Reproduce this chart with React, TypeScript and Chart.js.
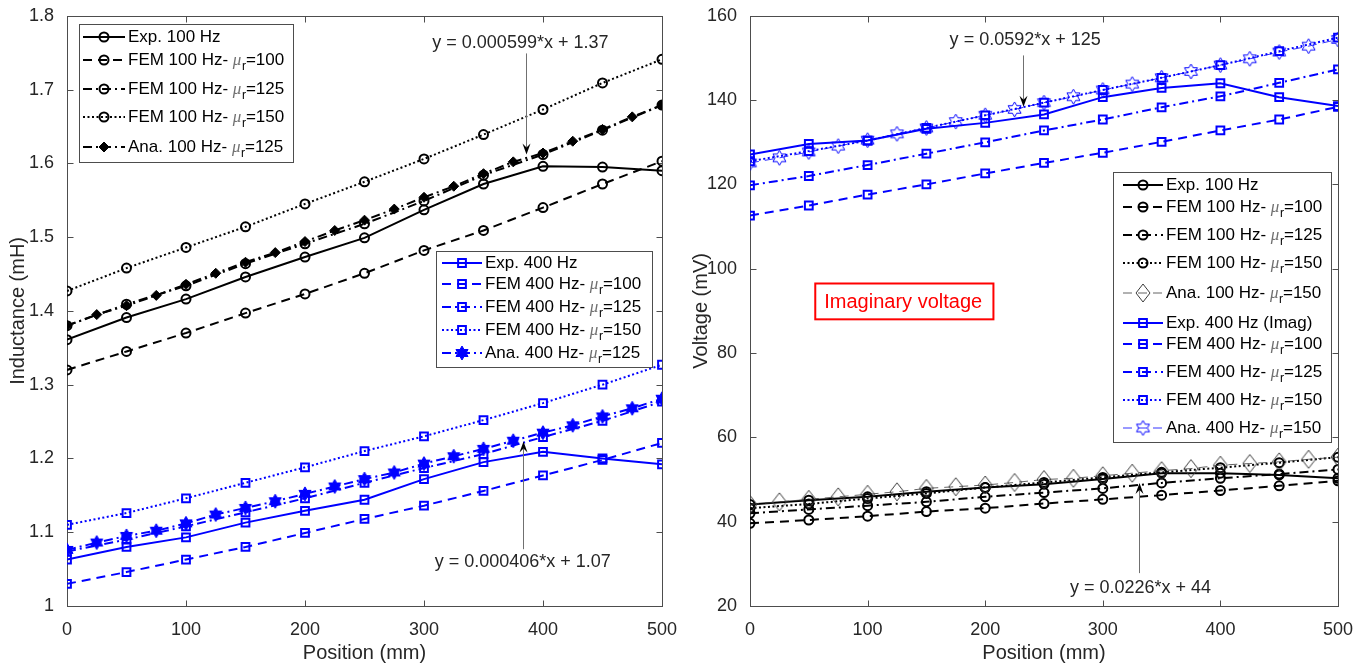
import React, { useEffect, useRef } from 'react';
import { Chart, registerables } from 'chart.js';

Chart.register(...registerables);

// ---------------- data ----------------
const positions = [0, 50, 100, 150, 200, 250, 300, 350, 400, 450, 500];
const positionsFine = [0, 25, 50, 75, 100, 125, 150, 175, 200, 225, 250, 275, 300, 325, 350, 375, 400, 425, 450, 475, 500];
const positionTicks = [0, 100, 200, 300, 400, 500];
const inductanceTicks = [1, 1.1, 1.2, 1.3, 1.4, 1.5, 1.6, 1.7, 1.8];
const voltageTicks = [20, 40, 60, 80, 100, 120, 140, 160];

// Inductance (mH)
const indExp100 = [1.361, 1.391, 1.416, 1.446, 1.473, 1.499, 1.537, 1.572, 1.596, 1.595, 1.590];
const indFem100Mu100 = [1.320, 1.345, 1.370, 1.397, 1.423, 1.451, 1.482, 1.509, 1.540, 1.572, 1.603];
const indFem100Mu125 = [1.380, 1.409, 1.434, 1.464, 1.491, 1.518, 1.549, 1.584, 1.612, 1.645, 1.679];
const indFem100Mu150 = [1.427, 1.458, 1.486, 1.514, 1.545, 1.575, 1.606, 1.639, 1.673, 1.709, 1.741];
const indAna100Mu125 = [1.380, 1.395, 1.407, 1.421, 1.436, 1.451, 1.466, 1.479, 1.494, 1.509, 1.523, 1.538, 1.554, 1.569, 1.586, 1.602, 1.614, 1.630, 1.646, 1.663, 1.679];
const indExp400 = [1.063, 1.080, 1.093, 1.113, 1.129, 1.144, 1.172, 1.195, 1.209, 1.200, 1.192];
const indFem400Mu100 = [1.030, 1.046, 1.063, 1.080, 1.099, 1.118, 1.136, 1.156, 1.177, 1.198, 1.221];
const indFem400Mu125 = [1.074, 1.090, 1.108, 1.127, 1.146, 1.167, 1.187, 1.206, 1.229, 1.251, 1.277];
const indFem400Mu150 = [1.110, 1.126, 1.146, 1.167, 1.188, 1.210, 1.230, 1.252, 1.275, 1.300, 1.327];
const indAna400Mu125 = [1.076, 1.086, 1.095, 1.102, 1.112, 1.124, 1.133, 1.142, 1.152, 1.162, 1.172, 1.181, 1.193, 1.203, 1.213, 1.224, 1.235, 1.245, 1.257, 1.268, 1.281];

// Voltage (mV)
const volExp100 = [44.1, 45.1, 45.9, 47.1, 48.1, 48.9, 50.1, 51.5, 51.5, 51.1, 50.3];
const volFem100Mu100 = [39.6, 40.4, 41.3, 42.4, 43.2, 44.3, 45.3, 46.3, 47.4, 48.5, 49.7];
const volFem100Mu125 = [42.0, 42.9, 43.8, 44.7, 45.9, 46.9, 47.9, 49.2, 50.3, 51.3, 52.4];
const volFem100Mu150 = [43.2, 44.2, 45.5, 46.7, 48.1, 49.3, 50.5, 51.7, 52.8, 54.0, 55.3];
const volAna100Mu150 = [44.1, 44.7, 45.3, 45.9, 46.5, 47.1, 47.9, 48.3, 48.7, 49.3, 50.0, 50.3, 50.9, 51.5, 52.1, 52.6, 53.4, 53.8, 54.2, 54.8, 55.3];
const volExp400 = [127.1, 129.6, 130.4, 133.2, 134.6, 136.6, 140.7, 142.9, 144.0, 140.7, 138.6];
const volFem400Mu100 = [112.6, 115.0, 117.6, 120.0, 122.6, 125.1, 127.5, 130.1, 132.8, 135.4, 138.4];
const volFem400Mu125 = [119.8, 122.0, 124.6, 127.3, 130.0, 132.8, 135.4, 138.3, 140.9, 144.1, 147.3];
const volFem400Mu150 = [125.5, 127.9, 130.4, 133.4, 136.4, 139.4, 142.4, 145.3, 148.3, 151.6, 154.8];
const volAna400Mu150 = [125.1, 126.3, 127.7, 129.1, 130.5, 132.0, 133.4, 134.9, 136.4, 137.8, 139.4, 140.8, 142.4, 143.8, 145.3, 146.8, 148.3, 149.8, 151.4, 152.8, 154.4];

// Fit annotations (text, text anchor, arrow x, arrow tail, arrow tip) in data units
const leftFits = [
  { text: 'y = 0.000599*x + 1.37', tx: 381, ty: 1.763, ax: 386, tail: 1.749, tip: 1.612 },
  { text: 'y = 0.000406*x + 1.07', tx: 383, ty: 1.060, ax: 383, tail: 1.077, tip: 1.223 },
];
const rightFits = [
  { text: 'y = 0.0592*x + 125', tx: 234, ty: 154.2, ax: 232, tail: 150.6, tip: 138.4 },
  { text: 'y = 0.0226*x + 44', tx: 332, ty: 24.3, ax: 331, tail: 27.8, tip: 49.2 },
];
const rightNote = { text: 'Imaginary voltage', x0: 55.5, x1: 207, y0: 96.5, y1: 88.0 };

// ---------------- styles ----------------
const FONT = "'Liberation Sans', Arial, Helvetica, sans-serif";
const SERIF = "'Liberation Serif', 'DejaVu Serif', serif";
const TEXT = '#262626';
const AXIS = '#4d4d4d';
const BLACK = '#000000';
const BLUE = '#0000ff';
const GRAY = '#3c3c3c';
const DASHES: Record<string, number[]> = {
  solid: [],
  dashed: [9, 6],
  dashdot: [9, 4, 2, 4],
  dotted: [2, 2.5],
};

function hexagram(R: number, color: string, filled: boolean, lw: number) {
  const pad = 2;
  const size = Math.ceil(2 * R + 2 * pad);
  const c = document.createElement('canvas');
  c.width = size;
  c.height = size;
  const g = c.getContext('2d')!;
  const cx = size / 2, cy = size / 2, r = R / Math.sqrt(3);
  g.beginPath();
  for (let k = 0; k < 12; k++) {
    const a = -Math.PI / 2 + (k * Math.PI) / 6;
    const rad = k % 2 === 0 ? R : r;
    const px = cx + rad * Math.cos(a), py = cy + rad * Math.sin(a);
    if (k === 0) g.moveTo(px, py); else g.lineTo(px, py);
  }
  g.closePath();
  if (filled) { g.fillStyle = color; g.fill(); }
  g.strokeStyle = color; g.lineWidth = lw; g.stroke();
  return c;
}

function tallDiamond(hw: number, hh: number, color: string, lw: number) {
  const pad = 2;
  const w = Math.ceil(2 * hw + 2 * pad), h = Math.ceil(2 * hh + 2 * pad);
  const c = document.createElement('canvas');
  c.width = w; c.height = h;
  const g = c.getContext('2d')!;
  const cx = w / 2, cy = h / 2;
  g.beginPath();
  g.moveTo(cx, cy - hh); g.lineTo(cx + hw, cy); g.lineTo(cx, cy + hh); g.lineTo(cx - hw, cy);
  g.closePath();
  g.strokeStyle = color; g.lineWidth = lw; g.stroke();
  return c;
}

type Series = {
  x: number[]; y: number[]; color: string; dash: string; width: number;
  marker: string; r: number; mw: number; fill: boolean; img?: HTMLCanvasElement;
  label: string; mu?: string;
};

function makeLeftSeries(): Series[] {
  const star = hexagram(7, BLUE, true, 1);
  return [
    { x: positions, y: indExp100, color: BLACK, dash: 'solid', width: 2, marker: 'circle', r: 4.5, mw: 2, fill: false, label: 'Exp. 100 Hz' },
    { x: positions, y: indFem100Mu100, color: BLACK, dash: 'dashed', width: 2, marker: 'circle', r: 4.5, mw: 2, fill: false, label: 'FEM 100 Hz- ', mu: '=100' },
    { x: positions, y: indFem100Mu125, color: BLACK, dash: 'dashdot', width: 2, marker: 'circle', r: 4.5, mw: 2, fill: false, label: 'FEM 100 Hz- ', mu: '=125' },
    { x: positions, y: indFem100Mu150, color: BLACK, dash: 'dotted', width: 2, marker: 'circle', r: 4.5, mw: 2, fill: false, label: 'FEM 100 Hz- ', mu: '=150' },
    { x: positionsFine, y: indAna100Mu125, color: BLACK, dash: 'dashdot', width: 2, marker: 'rectRot', r: 5, mw: 1, fill: true, label: 'Ana. 100 Hz- ', mu: '=125' },
    { x: positions, y: indExp400, color: BLUE, dash: 'solid', width: 2, marker: 'rect', r: 5.5, mw: 2, fill: false, label: 'Exp. 400 Hz' },
    { x: positions, y: indFem400Mu100, color: BLUE, dash: 'dashed', width: 2, marker: 'rect', r: 5.5, mw: 2, fill: false, label: 'FEM 400 Hz- ', mu: '=100' },
    { x: positions, y: indFem400Mu125, color: BLUE, dash: 'dashdot', width: 2, marker: 'rect', r: 5.5, mw: 2, fill: false, label: 'FEM 400 Hz- ', mu: '=125' },
    { x: positions, y: indFem400Mu150, color: BLUE, dash: 'dotted', width: 2, marker: 'rect', r: 5.5, mw: 2, fill: false, label: 'FEM 400 Hz- ', mu: '=150' },
    { x: positionsFine, y: indAna400Mu125, color: BLUE, dash: 'dashdot', width: 2, marker: 'img', img: star, r: 7, mw: 1, fill: true, label: 'Ana. 400 Hz- ', mu: '=125' },
  ];
}

function makeRightSeries(): Series[] {
  const star = hexagram(7.5, BLUE, false, 1);
  const diamond = tallDiamond(7, 9, GRAY, 1);
  return [
    { x: positions, y: volExp100, color: BLACK, dash: 'solid', width: 2, marker: 'circle', r: 4.5, mw: 2, fill: false, label: 'Exp. 100 Hz' },
    { x: positions, y: volFem100Mu100, color: BLACK, dash: 'dashed', width: 2, marker: 'circle', r: 4.5, mw: 2, fill: false, label: 'FEM 100 Hz- ', mu: '=100' },
    { x: positions, y: volFem100Mu125, color: BLACK, dash: 'dashdot', width: 2, marker: 'circle', r: 4.5, mw: 2, fill: false, label: 'FEM 100 Hz- ', mu: '=125' },
    { x: positions, y: volFem100Mu150, color: BLACK, dash: 'dotted', width: 2, marker: 'circle', r: 4.5, mw: 2, fill: false, label: 'FEM 100 Hz- ', mu: '=150' },
    { x: positionsFine, y: volAna100Mu150, color: GRAY, dash: 'dashed', width: 0.8, marker: 'img', img: diamond, r: 9, mw: 1, fill: false, label: 'Ana. 100 Hz- ', mu: '=150' },
    { x: positions, y: volExp400, color: BLUE, dash: 'solid', width: 2, marker: 'rect', r: 5.5, mw: 2, fill: false, label: 'Exp. 400 Hz (Imag)' },
    { x: positions, y: volFem400Mu100, color: BLUE, dash: 'dashed', width: 2, marker: 'rect', r: 5.5, mw: 2, fill: false, label: 'FEM 400 Hz- ', mu: '=100' },
    { x: positions, y: volFem400Mu125, color: BLUE, dash: 'dashdot', width: 2, marker: 'rect', r: 5.5, mw: 2, fill: false, label: 'FEM 400 Hz- ', mu: '=125' },
    { x: positions, y: volFem400Mu150, color: BLUE, dash: 'dotted', width: 2, marker: 'rect', r: 5.5, mw: 2, fill: false, label: 'FEM 400 Hz- ', mu: '=150' },
    { x: positionsFine, y: volAna400Mu150, color: BLUE, dash: 'dashed', width: 0.8, marker: 'img', img: star, r: 7.5, mw: 1, fill: false, label: 'Ana. 400 Hz- ', mu: '=150' },
  ];
}

function drawMarker(ctx: CanvasRenderingContext2D, s: Series, x: number, y: number) {
  ctx.save();
  ctx.setLineDash([]);
  if (s.marker === 'img' && s.img) {
    ctx.drawImage(s.img, x - s.img.width / 2, y - s.img.height / 2);
    ctx.restore();
    return;
  }
  ctx.beginPath();
  if (s.marker === 'circle') {
    ctx.arc(x, y, s.r, 0, Math.PI * 2);
  } else if (s.marker === 'rect') {
    const h = s.r * Math.SQRT1_2;
    ctx.rect(x - h, y - h, 2 * h, 2 * h);
  } else if (s.marker === 'rectRot') {
    ctx.moveTo(x, y - s.r); ctx.lineTo(x + s.r, y); ctx.lineTo(x, y + s.r); ctx.lineTo(x - s.r, y); ctx.closePath();
  }
  if (s.fill) { ctx.fillStyle = s.color; ctx.fill(); }
  ctx.strokeStyle = s.color; ctx.lineWidth = s.mw; ctx.stroke();
  ctx.restore();
}

function drawLabel(ctx: CanvasRenderingContext2D, s: Series, x: number, y: number) {
  ctx.textAlign = 'left';
  ctx.textBaseline = 'middle';
  ctx.fillStyle = '#000';
  ctx.font = `17px ${FONT}`;
  ctx.fillText(s.label, x, y);
  let cx = x + ctx.measureText(s.label).width;
  if (s.mu) {
    ctx.font = `italic 17px ${SERIF}`;
    ctx.fillStyle = '#707070';
    ctx.fillText('\u03bc', cx, y + 1);
    cx += ctx.measureText('\u03bc').width + 0.5;
    ctx.font = `12px ${FONT}`;
    ctx.fillStyle = '#000';
    ctx.fillText('r', cx, y + 7);
    cx += ctx.measureText('r').width;
    ctx.font = `17px ${FONT}`;
    ctx.fillText(s.mu, cx, y);
  }
}

type Legend = {
  x: number; y: number; w: number; h: number; items: number[]; rows: number[];
  lineX0: number; lineX1: number; markerX: number; textX: number;
};

function makeDecor(series: Series[], legends: Legend[], fits: any[], note: any, xTickVals: number[], yTickVals: number[]) {
  return {
    id: 'decor',
    beforeDatasetsDraw(chart: any) {
      const { ctx, chartArea } = chart;
      const xs = chart.scales.x, ys = chart.scales.y;
      const L = Math.round(chartArea.left) + 0.5, R = Math.round(chartArea.right) + 0.5;
      const T = Math.round(chartArea.top) + 0.5, B = Math.round(chartArea.bottom) + 0.5;
      ctx.save();
      ctx.strokeStyle = AXIS;
      ctx.lineWidth = 1;
      ctx.strokeRect(L, T, R - L, B - T);
      ctx.beginPath();
      const tl = 6;
      xTickVals.forEach((v) => {
        const px = Math.round(xs.getPixelForValue(v)) + 0.5;
        ctx.moveTo(px, B); ctx.lineTo(px, B - tl);
        ctx.moveTo(px, T); ctx.lineTo(px, T + tl);
      });
      yTickVals.forEach((v) => {
        const py = Math.round(ys.getPixelForValue(v)) + 0.5;
        ctx.moveTo(L, py); ctx.lineTo(L + tl, py);
        ctx.moveTo(R, py); ctx.lineTo(R - tl, py);
      });
      ctx.stroke();
      ctx.restore();
    },
    afterDraw(chart: any) {
      const { ctx } = chart;
      const xs = chart.scales.x, ys = chart.scales.y;
      const offsetX = chart.canvas.offsetLeft || 0;
      ctx.save();
      fits.forEach((f) => {
        const ax = Math.round(xs.getPixelForValue(f.ax)) + 0.5;
        const tailY = ys.getPixelForValue(f.tail);
        const tipY = ys.getPixelForValue(f.tip);
        const d = tipY > tailY ? 1 : -1;
        ctx.strokeStyle = '#707070';
        ctx.lineWidth = 1;
        ctx.setLineDash([]);
        ctx.beginPath();
        ctx.moveTo(ax, tailY);
        ctx.lineTo(ax, tipY - d * 7);
        ctx.stroke();
        ctx.fillStyle = '#000';
        ctx.beginPath();
        ctx.moveTo(ax, tipY);
        ctx.lineTo(ax - 4, tipY - d * 11);
        ctx.lineTo(ax, tipY - d * 7);
        ctx.lineTo(ax + 4, tipY - d * 11);
        ctx.closePath();
        ctx.fill();
        ctx.font = `18px ${FONT}`;
        ctx.fillStyle = TEXT;
        ctx.textAlign = 'center';
        ctx.textBaseline = 'middle';
        ctx.fillText(f.text, xs.getPixelForValue(f.tx), ys.getPixelForValue(f.ty));
      });
      if (note) {
        const x0 = xs.getPixelForValue(note.x0), x1 = xs.getPixelForValue(note.x1);
        const y0 = ys.getPixelForValue(note.y0), y1 = ys.getPixelForValue(note.y1);
        ctx.fillStyle = '#fff';
        ctx.fillRect(x0, y0, x1 - x0, y1 - y0);
        ctx.strokeStyle = '#ff0000';
        ctx.lineWidth = 2;
        ctx.strokeRect(x0, y0, x1 - x0, y1 - y0);
        ctx.font = `20px ${FONT}`;
        ctx.fillStyle = '#ff0000';
        ctx.textAlign = 'left';
        ctx.textBaseline = 'middle';
        ctx.fillText(note.text, x0 + 9, (y0 + y1) / 2 + 1);
      }
      legends.forEach((lg) => {
        const bx = lg.x - offsetX;
        ctx.fillStyle = '#fff';
        ctx.fillRect(bx, lg.y, lg.w, lg.h);
        ctx.strokeStyle = AXIS;
        ctx.lineWidth = 1;
        ctx.setLineDash([]);
        ctx.strokeRect(Math.round(bx) + 0.5, Math.round(lg.y) + 0.5, lg.w, lg.h);
        lg.items.forEach((idx, k) => {
          const s = series[idx];
          const ry = lg.rows[k];
          ctx.save();
          ctx.strokeStyle = s.color;
          ctx.lineWidth = s.width;
          ctx.setLineDash(DASHES[s.dash]);
          ctx.beginPath();
          ctx.moveTo(lg.lineX0 - offsetX, ry);
          ctx.lineTo(lg.lineX1 - offsetX, ry);
          ctx.stroke();
          ctx.restore();
          drawMarker(ctx, s, lg.markerX - offsetX, ry);
          drawLabel(ctx, s, lg.textX - offsetX, ry);
        });
      });
      ctx.restore();
    },
  };
}

function buildConfig(series: Series[], yMin: number, yMax: number, yTickVals: number[], yTitle: string,
  padRight: number, plugin: any): any {
  const datasets = series.map((s, i) => ({
    label: s.label + (s.mu || ''),
    data: s.x.map((x, k) => ({ x, y: s.y[k] })),
    borderColor: s.color,
    backgroundColor: s.color,
    borderWidth: s.width,
    borderDash: DASHES[s.dash],
    pointStyle: s.marker === 'img' ? s.img : s.marker,
    pointRadius: s.r,
    pointHoverRadius: s.r,
    pointBorderColor: s.color,
    pointBackgroundColor: s.fill ? s.color : 'rgba(0,0,0,0)',
    pointBorderWidth: s.mw,
    tension: 0,
    fill: false,
    order: -i,
  }));
  const tickFont = { family: FONT, size: 18 };
  return {
    type: 'line',
    data: { datasets },
    options: {
      responsive: false,
      animation: false,
      devicePixelRatio: 1,
      events: [],
      layout: { padding: { top: 15, right: padRight, bottom: 0, left: 0 } },
      plugins: { legend: { display: false }, tooltip: { enabled: false }, title: { display: false } },
      scales: {
        x: {
          type: 'linear',
          min: 0,
          max: 500,
          afterBuildTicks: (sc: any) => { sc.ticks = positionTicks.map((v) => ({ value: v })); },
          afterFit: (sc: any) => { sc.height = 60; },
          grid: { display: false },
          border: { display: false },
          ticks: { font: tickFont, color: TEXT, padding: 5, maxRotation: 0, autoSkip: false, callback: (v: any) => String(v) },
          title: { display: true, text: 'Position (mm)', color: TEXT, font: { family: FONT, size: 20 }, padding: { top: 0, bottom: 1 } },
        },
        y: {
          type: 'linear',
          min: yMin,
          max: yMax,
          afterBuildTicks: (sc: any) => { sc.ticks = yTickVals.map((v) => ({ value: v })); },
          afterFit: (sc: any) => { sc.width = 67; },
          grid: { display: false },
          border: { display: false },
          ticks: { font: tickFont, color: TEXT, padding: 5, autoSkip: false, callback: (v: any) => String(Math.round(v * 10) / 10) },
          title: { display: true, text: yTitle, color: TEXT, font: { family: FONT, size: 20 }, padding: { top: 6, bottom: 0 } },
        },
      },
    },
    plugins: [plugin],
  };
}

function LeftPlot() {
  const ref = useRef<HTMLCanvasElement>(null);
  useEffect(() => {
    const series = makeLeftSeries();
    const legends: Legend[] = [
      { x: 79, y: 24, w: 214, h: 138, items: [0, 1, 2, 3, 4], rows: [37, 60, 89, 117, 147], lineX0: 83, lineX1: 125, markerX: 104, textX: 128 },
      { x: 436, y: 251, w: 216, h: 116, items: [5, 6, 7, 8, 9], rows: [263, 284, 307, 330, 353], lineX0: 442, lineX1: 482, markerX: 462, textX: 485 },
    ];
    const plugin = makeDecor(series, legends, leftFits, null, positionTicks, inductanceTicks);
    const chart = new Chart(ref.current!, buildConfig(series, 1, 1.8, inductanceTicks, 'Inductance (mH)', 21, plugin));
    return () => chart.destroy();
  }, []);
  return <canvas ref={ref} width={683} height={666} style={{ position: 'absolute', left: 0, top: 0, width: 683, height: 666 }} />;
}

function RightPlot() {
  const ref = useRef<HTMLCanvasElement>(null);
  useEffect(() => {
    const series = makeRightSeries();
    const legends: Legend[] = [
      { x: 1113, y: 172, w: 218, h: 270, items: [0, 1, 2, 3, 4, 5, 6, 7, 8, 9], rows: [185, 207, 235, 263, 293, 323, 344, 372, 400, 428], lineX0: 1123, lineX1: 1163, markerX: 1143, textX: 1166 },
    ];
    const plugin = makeDecor(series, legends, rightFits, rightNote, positionTicks, voltageTicks);
    const chart = new Chart(ref.current!, buildConfig(series, 20, 160, voltageTicks, 'Voltage (mV)', 29, plugin));
    return () => chart.destroy();
  }, []);
  return <canvas ref={ref} width={684} height={666} style={{ position: 'absolute', left: 683, top: 0, width: 684, height: 666 }} />;
}

export default function App() {
  return (
    <div style={{ position: 'absolute', left: 0, top: 0, width: 1367, height: 666, background: '#ffffff', overflow: 'hidden' }}>
      <LeftPlot />
      <RightPlot />
    </div>
  );
}
